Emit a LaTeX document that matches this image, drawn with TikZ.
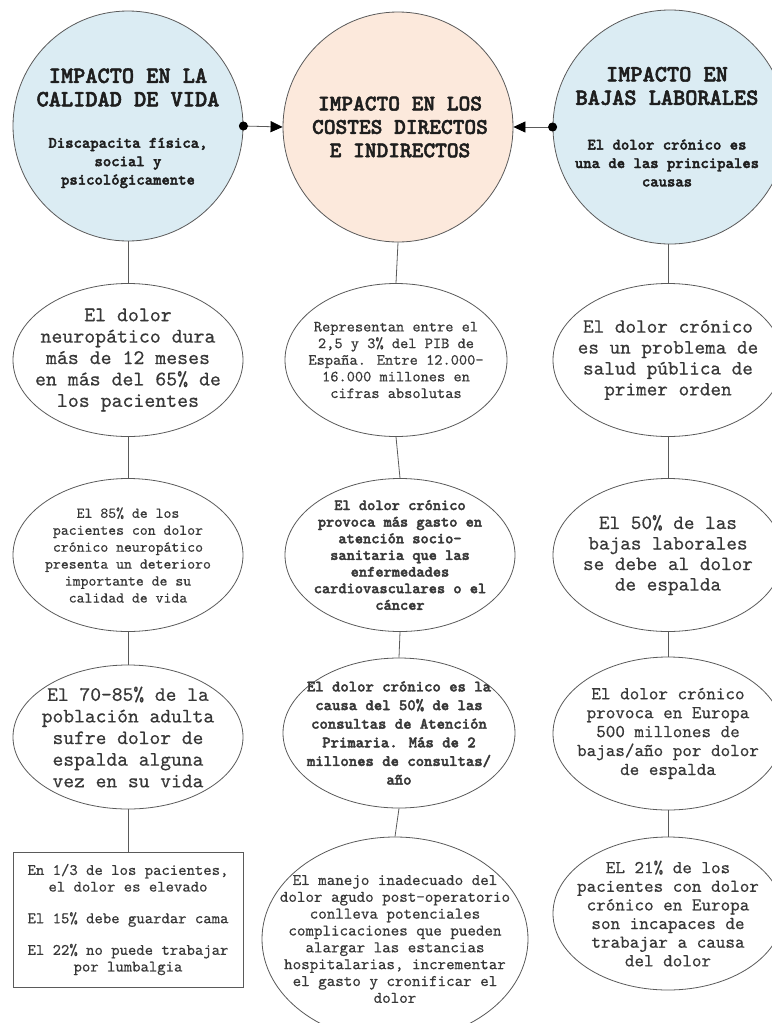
\documentclass[tikz,border=0pt]{standalone}
\usepackage{fontspec}
\newfontfamily\mbf{lmmonolt10-bold.otf}[FakeBold=2.2]
\newfontfamily\mreg{lmmono10-regular.otf}[FakeBold=0.4]
\usetikzlibrary{shapes.geometric,arrows.meta}
\definecolor{lineg}{HTML}{5A5A5A}
\definecolor{txtg}{HTML}{383838}
\definecolor{titg}{HTML}{1E1E1E}
\definecolor{hubblue}{HTML}{DBECF3}
\definecolor{hubpeach}{HTML}{FCE9DC}
\newcommand{\fz}[2]{\mreg\fontsize{#1}{#2}\selectfont}
\newcommand{\fb}[2]{\mbf\fontsize{#1}{#2}\selectfont}
\tikzset{
  hub/.style={circle, draw=lineg, line width=0.8bp, minimum size=230bp, inner sep=0pt},
  hubtitle/.style={align=center, text=titg, inner sep=0pt, font=\fb{23.3}{23.5}},
  hubsub/.style={align=center, text=titg, inner sep=0pt, font=\fb{16}{18.5}},
  oval/.style={ellipse, draw=lineg, line width=0.8bp, fill=white, inner sep=0pt, minimum width=230bp, minimum height=153bp},
  ovaltext/.style={align=center, text=txtg, inner sep=0pt},
  factbox/.style={rectangle, draw=lineg, line width=0.8bp, fill=white, inner sep=0pt, minimum width=230bp, minimum height=135bp},
  conn/.style={draw=lineg, line width=0.8bp},
  link/.style={conn, shorten <=-4.5bp, {Circle[length=9bp,color=black]}-{Triangle[length=12bp,width=11bp,color=black]}}
}
\begin{document}
\begin{tikzpicture}[x=1bp,y=-1bp]
\useasboundingbox (0,0) rectangle (772,1023);
\clip (0,0) rectangle (772,1023);

% hub circles
\node[hub, fill=hubblue] (lc) at (128,126) {};
\node[hub, fill=hubpeach] (mc) at (398,127) {};
\node[hub, fill=hubblue, minimum size=234bp] (rc) at (670,127) {};

\node[hubtitle] (lct) at (128,87.5) {IMPACTO EN LA\\CALIDAD DE VIDA};
\node[hubsub] (lcs) at (128,163) {Discapacita física,\\social y\\psicológicamente};
\node[hubtitle, font=\fb{22.4}{23.5}] (mct) at (400,127) {IMPACTO EN LOS\\COSTES DIRECTOS\\E INDIRECTOS};
\node[hubtitle] (rct) at (667,86) {IMPACTO EN\\BAJAS LABORALES};
\node[hubsub] (rcs) at (667,163) {El dolor crónico es\\una de las principales\\causas};

% left column
\node[oval] (l1) at (128,360) {};
\node[ovaltext, font=\fz{20.9}{21.5}] (l1t) at (l1) {El dolor\\neuropático dura\\más de 12 meses\\en más del 65\% de\\los pacientes};
\node[oval] (l2) at (128,555) {};
\node[ovaltext, font=\fz{15.1}{17}] (l2t) at (l2) {El 85\% de los\\pacientes con dolor\\crónico neuropático\\presenta un deterioro\\importante de su\\calidad de vida};
\node[oval, minimum height=144bp] (l3) at (128,737) {};
\node[ovaltext, font=\fz{20.6}{21.7}] (l3t) at (l3) {El 70-85\% de la\\población adulta\\sufre dolor de\\espalda alguna\\vez en su vida};
\node[factbox] (l4) at (128,919.5) {};
\node[ovaltext, font=\fz{16}{16.7}] (l4t) at (l4) {En 1/3 de los pacientes,\\el dolor es elevado\\[15bp]El 15\% debe guardar cama\\[15bp]El 22\% no puede trabajar\\por lumbalgia};

% middle column
\node[oval, minimum width=222bp] (m1) at (396,360) {};
\node[ovaltext, font=\fz{15.7}{16.7}] (m1t) at (m1) {Representan entre el\\2,5 y 3\% del PIB de\\España. Entre 12.000-\\16.000 millones en\\cifras absolutas};
\node[oval] (m2) at (400,555) {};
\node[ovaltext, font=\fb{15.7}{16.7}] (m2t) at (m2) {El dolor crónico\\provoca más gasto en\\atención socio-\\sanitaria que las\\enfermedades\\cardiovasculares o el\\cáncer};
\node[oval, minimum width=232bp, minimum height=150bp] (m3) at (399,733) {};
\node[ovaltext, font=\fb{16}{18.7}] (m3t) at (m3) {El dolor crónico es la\\causa del 50\% de las\\consultas de Atención\\Primaria. Más de 2\\millones de consultas/\\año};
\node[oval, minimum width=266bp, minimum height=204bp] (m4) at (395,939) {};
\node[ovaltext, font=\fz{16.3}{16.9}] (m4t) at (m4) {El manejo inadecuado del\\dolor agudo post-operatorio\\conlleva potenciales\\complicaciones que pueden\\alargar las estancias\\hospitalarias, incrementar\\el gasto y cronificar el\\dolor};

% right column
\node[oval] (r1) at (668,360) {};
\node[ovaltext, font=\fz{20.3}{21}] (r1t) at (r1) {El dolor crónico\\es un problema de\\salud pública de\\primer orden};
\node[oval] (r2) at (668,555) {};
\node[ovaltext, font=\fz{20.3}{20.6}] (r2t) at (r2) {El 50\% de las\\bajas laborales\\se debe al dolor\\de espalda};
\node[oval] (r3) at (668,733.5) {};
\node[ovaltext, font=\fz{18.3}{19}] (r3t) at (r3) {El dolor crónico\\provoca en Europa\\500 millones de\\bajas/año por dolor\\de espalda};
\node[oval] (r4) at (668,913.5) {};
\node[ovaltext, font=\fz{18.3}{18.7}] (r4t) at (r4) {EL 21\% de los\\pacientes con dolor\\crónico en Europa\\son incapaces de\\trabajar a causa\\del dolor};

% horizontal links
\draw[link] (lc.east) -- (mc.west);
\draw[link] (rc.west) -- (mc.east);

% vertical connectors
\draw[conn] (lc.south) -- (l1.north);
\draw[conn] (l1.south) -- (l2.north);
\draw[conn] (l2.south) -- (l3.north);
\draw[conn] (l3.south) -- (l4.north);
\draw[conn] (mc.south) -- (m1.north);
\draw[conn] (m1.south) -- (m2.north);
\draw[conn] (m2.south) -- (m3.north);
\draw[conn] (m3.south) -- (m4.north);
\draw[conn] (668,244) -- (r1.north);
\draw[conn] (r1.south) -- (r2.north);
\draw[conn] (r2.south) -- (r3.north);
\draw[conn] (r3.south) -- (r4.north);
\end{tikzpicture}
\end{document}
